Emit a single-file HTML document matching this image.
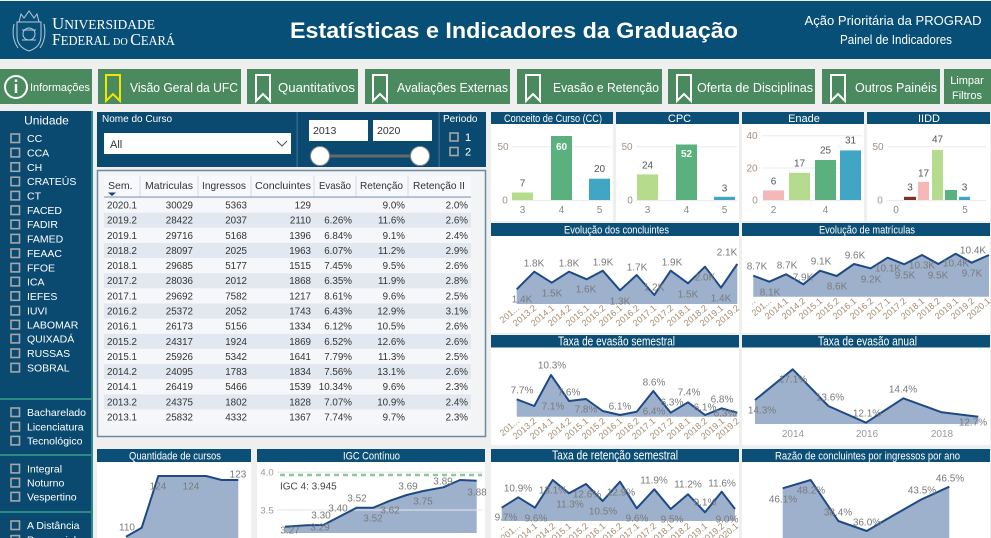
<!DOCTYPE html>
<html><head><meta charset="utf-8"><style>
html,body{margin:0;padding:0;background:#efefef;overflow:hidden;}
svg{display:block;font-family:"Liberation Sans",sans-serif;}
</style></head><body>
<svg width="991" height="538" viewBox="0 0 991 538" xmlns="http://www.w3.org/2000/svg">
<rect width="991" height="538" fill="#efefef"/>

<!-- HEADER -->
<rect x="0" y="1" width="991" height="58" fill="#074f77"/>
<g stroke="#b9c9d6" stroke-width="1" fill="none">
  <path d="M17,22 h24 v14 q0,11 -12,15 q-12,-4 -12,-15 z"/>
  <path d="M19,22 l2,-8 l3,4 l5,-7 l5,7 l3,-4 l2,8"/>
  <circle cx="29" cy="34" r="6"/>
  <path d="M14,24 q-3,14 4,24 M44,24 q3,14 -4,24"/>
  <path d="M22,30 h14 M22,40 h14"/>
</g>
<text x="52" y="29" fill="#fff" font-family="Liberation Serif,serif" textLength="103" lengthAdjust="spacingAndGlyphs"><tspan font-size="17">U</tspan><tspan font-size="13.5">NIVERSIDADE</tspan></text>
<text x="52" y="45" fill="#fff" font-family="Liberation Serif,serif" textLength="123" lengthAdjust="spacingAndGlyphs"><tspan font-size="17">F</tspan><tspan font-size="13.5">EDERAL </tspan><tspan font-size="11">DO </tspan><tspan font-size="17">C</tspan><tspan font-size="13.5">EARÁ</tspan></text>
<text x="514" y="38" font-size="22" font-weight="bold" fill="#fff" text-anchor="middle" textLength="448" lengthAdjust="spacingAndGlyphs">Estatísticas e Indicadores da Graduação</text>
<text x="893" y="25" font-size="13" fill="#fff" text-anchor="middle" textLength="177" lengthAdjust="spacingAndGlyphs">Ação Prioritária da PROGRAD</text>
<text x="896" y="44" font-size="13" fill="#fff" text-anchor="middle" textLength="112" lengthAdjust="spacingAndGlyphs">Painel de Indicadores</text>

<!-- NAV -->
<g fill="#4a8a5e">
  <rect x="0" y="69" width="92" height="35"/>
  <rect x="98" y="69" width="143" height="35"/>
  <rect x="247" y="69" width="111" height="35"/>
  <rect x="365" y="69" width="145" height="35"/>
  <rect x="517" y="69" width="145" height="35"/>
  <rect x="668" y="69" width="147" height="35"/>
  <rect x="822" y="69" width="118" height="35"/>
  <rect x="944" y="69" width="47" height="35"/>
</g>
<circle cx="16" cy="87" r="11" stroke="#fff" stroke-width="2" fill="none"/>
<rect x="14.8" y="84" width="2.4" height="9" fill="#fff"/>
<rect x="14.8" y="79.5" width="2.4" height="2.4" fill="#fff"/>
<g stroke-width="2" fill="none">
  <path d="M106,75 h14 v26 l-7,-7 l-7,7 z" stroke="#f2e600"/>
  <path d="M256,75 h14 v26 l-7,-7 l-7,7 z" stroke="#fff"/>
  <path d="M373,75 h14 v26 l-7,-7 l-7,7 z" stroke="#fff"/>
  <path d="M526,75 h14 v26 l-7,-7 l-7,7 z" stroke="#fff"/>
  <path d="M677,75 h14 v26 l-7,-7 l-7,7 z" stroke="#fff"/>
  <path d="M831,75 h14 v26 l-7,-7 l-7,7 z" stroke="#fff"/>
</g>
<g fill="#fff" font-size="12.5">
  <text x="30" y="91" font-size="11" textLength="60" lengthAdjust="spacingAndGlyphs">Informações</text>
  <text x="130" y="92" textLength="108" lengthAdjust="spacingAndGlyphs">Visão Geral da UFC</text>
  <text x="278" y="92" textLength="77" lengthAdjust="spacingAndGlyphs">Quantitativos</text>
  <text x="397" y="92" textLength="111" lengthAdjust="spacingAndGlyphs">Avaliações Externas</text>
  <text x="553" y="92" textLength="106" lengthAdjust="spacingAndGlyphs">Evasão e Retenção</text>
  <text x="697" y="92" textLength="116" lengthAdjust="spacingAndGlyphs">Oferta de Disciplinas</text>
  <text x="855" y="92" textLength="82" lengthAdjust="spacingAndGlyphs">Outros Painéis</text>
  <text x="967" y="84" font-size="11" text-anchor="middle">Limpar</text>
  <text x="967" y="99" font-size="11" text-anchor="middle">Filtros</text>
</g>

<!-- SIDEBAR -->
<rect x="0" y="111" width="92" height="427" fill="#0a4a70"/>
<rect x="91" y="111" width="2" height="427" fill="#2b8a86"/>
<rect x="0" y="398" width="92" height="2" fill="#2b8a86"/>
<rect x="0" y="454" width="92" height="2" fill="#2b8a86"/>
<rect x="0" y="511" width="92" height="2" fill="#2b8a86"/>
<text x="46.5" y="124.5" font-size="12" fill="#fff" text-anchor="middle">Unidade</text>
<g fill="none" stroke="#a7a7a7" stroke-width="1.6">
  <rect x="11" y="134" width="8.5" height="8.5"/>
  <rect x="11" y="148.4" width="8.5" height="8.5"/>
  <rect x="11" y="162.8" width="8.5" height="8.5"/>
  <rect x="11" y="177.2" width="8.5" height="8.5"/>
  <rect x="11" y="191.4" width="8.5" height="8.5"/>
  <rect x="11" y="206" width="8.5" height="8.5"/>
  <rect x="11" y="220.2" width="8.5" height="8.5"/>
  <rect x="11" y="234.4" width="8.5" height="8.5"/>
  <rect x="11" y="249" width="8.5" height="8.5"/>
  <rect x="11" y="263.4" width="8.5" height="8.5"/>
  <rect x="11" y="277.4" width="8.5" height="8.5"/>
  <rect x="11" y="291.8" width="8.5" height="8.5"/>
  <rect x="11" y="306.4" width="8.5" height="8.5"/>
  <rect x="11" y="320.4" width="8.5" height="8.5"/>
  <rect x="11" y="334.4" width="8.5" height="8.5"/>
  <rect x="11" y="349" width="8.5" height="8.5"/>
  <rect x="11" y="363.4" width="8.5" height="8.5"/>
  <rect x="11" y="408" width="8.5" height="8.5"/>
  <rect x="11" y="422.4" width="8.5" height="8.5"/>
  <rect x="11" y="436.4" width="8.5" height="8.5"/>
  <rect x="11" y="464.4" width="8.5" height="8.5"/>
  <rect x="11" y="478.4" width="8.5" height="8.5"/>
  <rect x="11" y="492.4" width="8.5" height="8.5"/>
  <rect x="11" y="521" width="8.5" height="8.5"/>
  <rect x="11" y="535.6" width="8.5" height="8.5"/>
</g>
<g fill="#fff" font-size="10.5">
  <text x="27" y="142">CC</text>
  <text x="27" y="156.4">CCA</text>
  <text x="27" y="170.8">CH</text>
  <text x="27" y="185.2">CRATEÚS</text>
  <text x="27" y="199.4">CT</text>
  <text x="27" y="214">FACED</text>
  <text x="27" y="228.2">FADIR</text>
  <text x="27" y="242.4">FAMED</text>
  <text x="27" y="257">FEAAC</text>
  <text x="27" y="271.4">FFOE</text>
  <text x="27" y="285.4">ICA</text>
  <text x="27" y="299.8">IEFES</text>
  <text x="27" y="314.4">IUVI</text>
  <text x="27" y="328.4">LABOMAR</text>
  <text x="27" y="342.4">QUIXADÁ</text>
  <text x="27" y="357">RUSSAS</text>
  <text x="27" y="371.4">SOBRAL</text>
  <text x="27" y="416">Bacharelado</text>
  <text x="27" y="430.4">Licenciatura</text>
  <text x="27" y="444.4">Tecnológico</text>
  <text x="27" y="472.4">Integral</text>
  <text x="27" y="486.4">Noturno</text>
  <text x="27" y="500.4">Vespertino</text>
  <text x="27" y="529">A Distância</text>
  <text x="27" y="543.6">Presencial</text>
</g>

<!-- FILTERS -->
<rect x="97" y="112" width="389" height="55" fill="#0a4a70"/>
<rect x="296.5" y="112" width="1.2" height="55" fill="#3d6f92"/>
<rect x="438.5" y="112" width="1.2" height="55" fill="#3d6f92"/>
<text x="102" y="122" font-size="10" fill="#fff">Nome do Curso</text>
<rect x="104" y="133" width="187" height="21" fill="#fff"/>
<text x="110" y="148" font-size="11" fill="#333">All</text>
<path d="M277,141 l5,5 l5,-5" stroke="#555" stroke-width="1.1" fill="none"/>
<rect x="309" y="120" width="59" height="21" fill="#fff"/>
<rect x="373" y="120" width="59" height="21" fill="#fff"/>
<text x="313" y="134" font-size="10.5" fill="#333">2013</text>
<text x="377" y="134" font-size="10.5" fill="#333">2020</text>
<rect x="320" y="154.5" width="100" height="3" fill="#666"/>
<circle cx="320" cy="156" r="9.5" fill="#fff" stroke="#888" stroke-width="1"/>
<circle cx="420" cy="156" r="9.5" fill="#fff" stroke="#888" stroke-width="1"/>
<text x="443" y="122" font-size="10" fill="#fff">Periodo</text>
<rect x="450" y="133" width="8" height="8" fill="none" stroke="#a7a7a7" stroke-width="1.6"/>
<rect x="450" y="147.5" width="8" height="8" fill="none" stroke="#a7a7a7" stroke-width="1.6"/>
<text x="465" y="141" font-size="11" fill="#fff">1</text>
<text x="465" y="155.5" font-size="11" fill="#fff">2</text>

<!-- TABLE -->
<rect x="97.5" y="170.5" width="388" height="266" fill="#f3f4f5" stroke="#6f8aa0" stroke-width="1.5"/>
<rect x="104" y="176" width="367" height="21.5" fill="#f6f8fb"/>
<g stroke="#d3dbe4" stroke-width="1">
  <line x1="140" y1="176" x2="140" y2="197"/>
  <line x1="198" y1="176" x2="198" y2="197"/>
  <line x1="251" y1="176" x2="251" y2="197"/>
  <line x1="314" y1="176" x2="314" y2="197"/>
  <line x1="356" y1="176" x2="356" y2="197"/>
  <line x1="408" y1="176" x2="408" y2="197"/>
</g>
<rect x="104" y="196.5" width="367" height="1.2" fill="#7d98b3"/>
<g font-size="10.5" fill="#333">
  <text x="108" y="189">Sem.</text>
  <text x="145" y="189" textLength="48" lengthAdjust="spacingAndGlyphs">Matriculas</text>
  <text x="202" y="189" textLength="44" lengthAdjust="spacingAndGlyphs">Ingressos</text>
  <text x="255" y="189" textLength="56" lengthAdjust="spacingAndGlyphs">Concluintes</text>
  <text x="319" y="189" textLength="32" lengthAdjust="spacingAndGlyphs">Evasão</text>
  <text x="360" y="189" textLength="43" lengthAdjust="spacingAndGlyphs">Retenção</text>
  <text x="413" y="189" textLength="52" lengthAdjust="spacingAndGlyphs">Retenção II</text>
</g>
<path d="M108,192.5 h8 l-4,3.5 z" fill="#1f3f6a"/>
<g fill="#e2e8f0">
  <rect x="104" y="212.64" width="367" height="15.14"/>
  <rect x="104" y="242.92" width="367" height="15.14"/>
  <rect x="104" y="273.2" width="367" height="15.14"/>
  <rect x="104" y="303.48" width="367" height="15.14"/>
  <rect x="104" y="333.76" width="367" height="15.14"/>
  <rect x="104" y="364.04" width="367" height="15.14"/>
  <rect x="104" y="394.32" width="367" height="15.14"/>
</g>
<g fill="#f5f7fb">
  <rect x="104" y="197.7" width="367" height="14.94"/>
  <rect x="104" y="227.78" width="367" height="15.14"/>
  <rect x="104" y="258.06" width="367" height="15.14"/>
  <rect x="104" y="288.34" width="367" height="15.14"/>
  <rect x="104" y="318.62" width="367" height="15.14"/>
  <rect x="104" y="348.9" width="367" height="15.14"/>
  <rect x="104" y="379.18" width="367" height="15.14"/>
  <rect x="104" y="409.46" width="367" height="15.14"/>
</g>
<g font-size="9.8" fill="#333">
<g>
  <text x="107" y="208.5">2020.1</text><text x="107" y="223.6">2019.2</text><text x="107" y="238.8">2019.1</text>
  <text x="107" y="253.9">2018.2</text><text x="107" y="269.1">2018.1</text><text x="107" y="284.2">2017.2</text>
  <text x="107" y="299.3">2017.1</text><text x="107" y="314.5">2016.2</text><text x="107" y="329.6">2016.1</text>
  <text x="107" y="344.8">2015.2</text><text x="107" y="359.9">2015.1</text><text x="107" y="375">2014.2</text>
  <text x="107" y="390.2">2014.1</text><text x="107" y="405.3">2013.2</text><text x="107" y="420.5">2013.1</text>
</g>
<g text-anchor="end">
  <text x="193" y="208.5">30029</text><text x="193" y="223.6">28422</text><text x="193" y="238.8">29716</text>
  <text x="193" y="253.9">28097</text><text x="193" y="269.1">29685</text><text x="193" y="284.2">28036</text>
  <text x="193" y="299.3">29692</text><text x="193" y="314.5">25372</text><text x="193" y="329.6">26173</text>
  <text x="193" y="344.8">24317</text><text x="193" y="359.9">25926</text><text x="193" y="375">24095</text>
  <text x="193" y="390.2">26419</text><text x="193" y="405.3">24375</text><text x="193" y="420.5">25832</text>

  <text x="247" y="208.5">5363</text><text x="247" y="223.6">2037</text><text x="247" y="238.8">5168</text>
  <text x="247" y="253.9">2025</text><text x="247" y="269.1">5177</text><text x="247" y="284.2">2012</text>
  <text x="247" y="299.3">7582</text><text x="247" y="314.5">2052</text><text x="247" y="329.6">5156</text>
  <text x="247" y="344.8">1924</text><text x="247" y="359.9">5342</text><text x="247" y="375">1783</text>
  <text x="247" y="390.2">5466</text><text x="247" y="405.3">1802</text><text x="247" y="420.5">4332</text>

  <text x="311" y="208.5">129</text><text x="311" y="223.6">2110</text><text x="311" y="238.8">1396</text>
  <text x="311" y="253.9">1963</text><text x="311" y="269.1">1515</text><text x="311" y="284.2">1868</text>
  <text x="311" y="299.3">1217</text><text x="311" y="314.5">1743</text><text x="311" y="329.6">1334</text>
  <text x="311" y="344.8">1869</text><text x="311" y="359.9">1641</text><text x="311" y="375">1834</text>
  <text x="311" y="390.2">1539</text><text x="311" y="405.3">1828</text><text x="311" y="420.5">1367</text>

  <text x="352" y="223.6">6.26%</text><text x="352" y="238.8">6.84%</text>
  <text x="352" y="253.9">6.07%</text><text x="352" y="269.1">7.45%</text><text x="352" y="284.2">6.35%</text>
  <text x="352" y="299.3">8.61%</text><text x="352" y="314.5">6.43%</text><text x="352" y="329.6">6.12%</text>
  <text x="352" y="344.8">6.52%</text><text x="352" y="359.9">7.79%</text><text x="352" y="375">7.56%</text>
  <text x="352" y="390.2">10.34%</text><text x="352" y="405.3">7.07%</text><text x="352" y="420.5">7.74%</text>

  <text x="405" y="208.5">9.0%</text><text x="405" y="223.6">11.6%</text><text x="405" y="238.8">9.1%</text>
  <text x="405" y="253.9">11.2%</text><text x="405" y="269.1">9.5%</text><text x="405" y="284.2">11.9%</text>
  <text x="405" y="299.3">9.6%</text><text x="405" y="314.5">12.9%</text><text x="405" y="329.6">10.5%</text>
  <text x="405" y="344.8">12.6%</text><text x="405" y="359.9">11.3%</text><text x="405" y="375">13.1%</text>
  <text x="405" y="390.2">9.6%</text><text x="405" y="405.3">10.9%</text><text x="405" y="420.5">9.7%</text>

  <text x="468" y="208.5">2.0%</text><text x="468" y="223.6">2.6%</text><text x="468" y="238.8">2.4%</text>
  <text x="468" y="253.9">2.9%</text><text x="468" y="269.1">2.6%</text><text x="468" y="284.2">2.8%</text>
  <text x="468" y="299.3">2.5%</text><text x="468" y="314.5">3.1%</text><text x="468" y="329.6">2.6%</text>
  <text x="468" y="344.8">2.6%</text><text x="468" y="359.9">2.5%</text><text x="468" y="375">2.6%</text>
  <text x="468" y="390.2">2.3%</text><text x="468" y="405.3">2.4%</text><text x="468" y="420.5">2.3%</text>
</g>
</g>

<!-- PANELS & TITLE BARS -->
<g fill="#fff">
  <rect x="491" y="124" width="122" height="97"/>
  <rect x="616" y="124" width="123" height="97"/>
  <rect x="742" y="124" width="122" height="97"/>
  <rect x="867" y="124" width="123" height="97"/>
  <rect x="491" y="236" width="248" height="97"/>
  <rect x="742" y="236" width="248" height="97"/>
  <rect x="491" y="347.5" width="248" height="97.5"/>
  <rect x="742" y="347.5" width="248" height="97.5"/>
  <rect x="491" y="462" width="248" height="76"/>
  <rect x="742" y="462" width="248" height="76"/>
  <rect x="97" y="462" width="154" height="76"/>
  <rect x="257" y="462" width="228" height="76"/>
</g>
<g fill="#0b4f76">
  <rect x="491" y="112" width="122" height="12"/>
  <rect x="616" y="112" width="123" height="12"/>
  <rect x="742" y="112" width="122" height="12"/>
  <rect x="867" y="112" width="123" height="12"/>
  <rect x="491" y="223" width="248" height="13"/>
  <rect x="742" y="223" width="248" height="13"/>
  <rect x="491" y="335" width="248" height="12.5"/>
  <rect x="742" y="335" width="248" height="12.5"/>
  <rect x="491" y="449" width="248" height="13"/>
  <rect x="742" y="449" width="248" height="13"/>
  <rect x="97" y="449" width="154" height="13"/>
  <rect x="257" y="449" width="228" height="13"/>
</g>
<g fill="#fff" font-size="11" text-anchor="middle">
  <text x="553" y="122" textLength="98" lengthAdjust="spacingAndGlyphs">Conceito de Curso (CC)</text>
  <text x="679.5" y="122">CPC</text>
  <text x="804" y="122">Enade</text>
  <text x="929" y="122">IIDD</text>
  <text x="616.5" y="233.5" textLength="105" lengthAdjust="spacingAndGlyphs">Evolução dos concluintes</text>
  <text x="867" y="233.5" textLength="96" lengthAdjust="spacingAndGlyphs">Evolução de matrículas</text>
  <text x="616.5" y="345.5" font-size="12.5" textLength="117" lengthAdjust="spacingAndGlyphs">Taxa de evasão semestral</text>
  <text x="867.5" y="345.5" font-size="12.5" textLength="99" lengthAdjust="spacingAndGlyphs">Taxa de evasão anual</text>
  <text x="615" y="459.5" font-size="12.5" textLength="126" lengthAdjust="spacingAndGlyphs">Taxa de retenção semestral</text>
  <text x="867.5" y="459.5" textLength="185" lengthAdjust="spacingAndGlyphs">Razão de concluintes por ingressos por ano</text>
  <text x="175" y="459.5" textLength="92" lengthAdjust="spacingAndGlyphs">Quantidade de cursos</text>
  <text x="371.5" y="459.5" textLength="57" lengthAdjust="spacingAndGlyphs">IGC Contínuo</text>
</g>

<!-- BAR CHARTS -->
<g stroke="#ececec" stroke-width="1">
  <line x1="512" y1="146.7" x2="611" y2="146.7"/><line x1="512" y1="200.5" x2="611" y2="200.5"/>
  <line x1="636" y1="146.7" x2="737" y2="146.7"/><line x1="636" y1="200.5" x2="737" y2="200.5"/>
  <line x1="762" y1="135.7" x2="862" y2="135.7"/><line x1="762" y1="168" x2="862" y2="168"/><line x1="762" y1="200.5" x2="862" y2="200.5"/>
  <line x1="887" y1="146.7" x2="986" y2="146.7"/><line x1="887" y1="200.5" x2="986" y2="200.5"/>
</g>
<!-- CC -->
<rect x="512" y="192.5" width="21" height="7.5" fill="#b5dc8c"/>
<rect x="551" y="136" width="21" height="64" fill="#5bb17d"/>
<rect x="589" y="178.7" width="21" height="21.3" fill="#41a6c6"/>
<!-- CPC -->
<rect x="637" y="174.4" width="21" height="25.6" fill="#b5dc8c"/>
<rect x="676" y="144.5" width="21" height="55.5" fill="#5bb17d"/>
<rect x="714" y="196.8" width="21" height="3.2" fill="#41a6c6"/>
<!-- Enade -->
<rect x="763" y="190.4" width="21" height="9.6" fill="#f4b8b9"/>
<rect x="789" y="172.8" width="21" height="27.2" fill="#b5dc8c"/>
<rect x="815" y="160" width="21" height="40" fill="#5bb17d"/>
<rect x="840" y="150.4" width="21" height="49.6" fill="#41a6c6"/>
<!-- IIDD -->
<rect x="904" y="196.8" width="12" height="3.2" fill="#7d3326"/>
<rect x="918" y="181.9" width="11" height="18.1" fill="#f4b8b9"/>
<rect x="932" y="149.9" width="11" height="50.1" fill="#b5dc8c"/>
<rect x="945" y="190" width="12" height="10" fill="#5bb17d"/>
<rect x="959" y="196.8" width="11" height="3.2" fill="#41a6c6"/>
<g font-size="10" fill="#a39282" text-anchor="middle">
  <text x="503" y="150">50</text><text x="505" y="203.5">0</text>
  <text x="627" y="150">50</text><text x="630" y="203.5">0</text>
  <text x="752" y="139">40</text><text x="752" y="171.5">20</text><text x="755" y="203.5">0</text>
  <text x="878" y="150">50</text><text x="880" y="203.5">0</text>
</g>
<g font-size="10" fill="#888" text-anchor="middle">
  <text x="522.5" y="213">3</text><text x="561.5" y="213">4</text><text x="599.5" y="213">5</text>
  <text x="647.5" y="213">3</text><text x="686.5" y="213">4</text><text x="724.5" y="213">5</text>
  <text x="773.5" y="213">2</text><text x="825.5" y="213">4</text>
  <text x="896" y="213">0</text><text x="965" y="213">5</text>
</g>
<g font-size="10" fill="#555" text-anchor="middle">
  <text x="522.5" y="186.5">7</text><text x="599.5" y="172">20</text>
  <text x="647.5" y="168.5">24</text><text x="724.5" y="191.5">3</text>
  <text x="773.5" y="184.5">6</text><text x="799.5" y="166.5">17</text><text x="825.5" y="153.5">25</text><text x="850.5" y="143.5">31</text>
  <text x="910" y="190.5">3</text><text x="923.5" y="176.5">17</text><text x="937.5" y="142.5">47</text><text x="964.5" y="190.5">3</text>
</g>
<g font-size="10" fill="#fff" font-weight="bold" text-anchor="middle">
  <text x="561.5" y="150">60</text><text x="686.5" y="157">52</text>
</g>

<!-- LINE CHARTS -->
<g fill="#9db1cd" stroke="none">
  <polygon points="516.7,304 516.7,289.3 534.3,271.7 551.7,282.7 569,271.7 586.7,279.3 602.7,270.7 620,290.3 636.7,275 654.3,295 670.7,270.7 688,283.3 705,266.7 721,287.7 737.3,264 737.3,304"/>
  <polygon points="753.3,296.7 753.3,275.7 769.3,281.7 786,274.3 803.3,284.3 820,270.7 836.7,276 854,264 870.7,268.3 887.7,257.7 904.3,264.3 922,255 938.3,264 955.7,253.7 971.7,262.7 989,255 989,296.7"/>
  <polygon points="516.7,416.7 516.7,399.3 534.3,406 551,375 569,401 586,399 602.7,411 620,415 636.7,411.7 653.3,391 670.7,412.7 688,402.3 705,415 721.7,408.3 737.3,412.7 737.3,416.7"/>
  <polygon points="755,424 755,400 792.7,369.3 828.3,406 866,422.7 903.3,398.3 941.7,412.3 978.3,416.7 978.3,424"/>
  <polygon points="501.7,521 501.7,507.7 518.3,497.3 535,507.7 552.7,480 569,493.3 586,484 602.7,501 620,481.7 636.7,508.3 654.3,489.3 670.7,509 688,494.3 705,512.3 721.7,491.7 735,509 735,521"/>
  <polygon points="782.7,545 782.7,488.3 810.7,480 838.3,521 866.7,531 894,515 921.7,499.3 949.3,486.7 949.3,545"/>
  <polygon points="126,545 126,536.7 141.7,527.7 158.3,476 206,476 221.7,480 238.3,480 238.3,545"/>
  <polygon points="285,533 285,526.7 306.7,525.3 323.3,525 356.7,507.7 373.3,507.7 390,500.7 406.7,495 423.3,491 443.3,487.3 460,480 476.7,480.7 476.7,533"/>
</g>
<g stroke="#e6e6e6" stroke-width="1">
  <line x1="277" y1="472.3" x2="483" y2="472.3"/>
  <line x1="277" y1="510" x2="483" y2="510"/>
</g>
<line x1="280" y1="475" x2="482" y2="475" stroke="#8fc79a" stroke-width="2.5" stroke-dasharray="5,4"/>
<g fill="none" stroke="#1d4a86" stroke-width="2" stroke-linejoin="round">
  <polyline points="516.7,289.3 534.3,271.7 551.7,282.7 569,271.7 586.7,279.3 602.7,270.7 620,290.3 636.7,275 654.3,295 670.7,270.7 688,283.3 705,266.7 721,287.7 737.3,264"/>
  <polyline points="753.3,275.7 769.3,281.7 786,274.3 803.3,284.3 820,270.7 836.7,276 854,264 870.7,268.3 887.7,257.7 904.3,264.3 922,255 938.3,264 955.7,253.7 971.7,262.7 989,255"/>
  <polyline points="516.7,399.3 534.3,406 551,375 569,401 586,399 602.7,411 620,415 636.7,411.7 653.3,391 670.7,412.7 688,402.3 705,415 721.7,408.3 737.3,412.7"/>
  <polyline points="755,400 792.7,369.3 828.3,406 866,422.7 903.3,398.3 941.7,412.3 978.3,416.7"/>
  <polyline points="501.7,507.7 518.3,497.3 535,507.7 552.7,480 569,493.3 586,484 602.7,501 620,481.7 636.7,508.3 654.3,489.3 670.7,509 688,494.3 705,512.3 721.7,491.7 735,509"/>
  <polyline points="782.7,488.3 810.7,480 838.3,521 866.7,531 894,515 921.7,499.3 949.3,486.7"/>
  <polyline points="126,536.7 141.7,527.7 158.3,476 206,476 221.7,480 238.3,480"/>
  <polyline points="285,526.7 306.7,525.3 323.3,525 356.7,507.7 373.3,507.7 390,500.7 406.7,495 423.3,491 443.3,487.3 460,480 476.7,480.7"/>
</g>

<!-- data labels -->
<g font-size="10" fill="#7a7a7a" text-anchor="middle">
  <text x="522" y="302.5">1.4K</text><text x="534" y="266.5">1.8K</text><text x="552" y="296.5">1.5K</text>
  <text x="569" y="266.5">1.8K</text><text x="586" y="292.5">1.6K</text><text x="603" y="265.5">1.9K</text>
  <text x="620" y="304.5">1.3K</text><text x="637" y="270.5">1.7K</text><text x="654" y="290.5">1.2K</text>
  <text x="672" y="265.5">1.9K</text><text x="688" y="297.5">1.5K</text><text x="705" y="280.5">2.0K</text>
  <text x="721" y="301.5">1.4K</text><text x="727" y="255.5">2.1K</text>

  <text x="757" y="269.5">8.7K</text><text x="770" y="295.5">8.1K</text><text x="787" y="268.5">8.7K</text>
  <text x="803" y="280.5">7.9K</text><text x="821" y="264.5">9.1K</text><text x="837" y="289.5">8.6K</text>
  <text x="855" y="258.5">9.6K</text><text x="871" y="282.5">9.2K</text><text x="888" y="271.5">10.1K</text>
  <text x="905" y="278.5">9.5K</text><text x="922" y="268.5">10.3K</text><text x="938" y="278.5">9.5K</text>
  <text x="956" y="266.5">10.4K</text><text x="972" y="276.5">9.7K</text><text x="973" y="253.5">10.4K</text>

  <text x="522" y="393.5">7.7%</text><text x="552" y="368.5">10.3%</text><text x="569" y="395.5">7.6%</text>
  <text x="553" y="409.5">7.1%</text><text x="586" y="412.5">7.8%</text><text x="620" y="409.5">6.1%</text>
  <text x="654" y="385.5">8.6%</text><text x="654" y="414.5">6.4%</text><text x="672" y="405.5">6.3%</text>
  <text x="689" y="395.5">7.4%</text><text x="705" y="410.5">6.1%</text><text x="722" y="402.5">6.8%</text>
  <text x="725" y="416.5">6.3%</text>

  <text x="762" y="413.5">14.3%</text><text x="793" y="382.5">17.1%</text><text x="830" y="400.5">13.6%</text>
  <text x="867" y="416.5">12.1%</text><text x="903" y="392.5">14.4%</text><text x="973" y="425.5">12.7%</text>

  <text x="506" y="520.5">9.7%</text><text x="518" y="491.5">10.9%</text><text x="536" y="521.5">9.6%</text>
  <text x="553" y="493.5">13.1%</text><text x="570" y="507.5">11.3%</text><text x="587" y="497.5">12.6%</text>
  <text x="603" y="514.5">10.5%</text><text x="621" y="495.5">12.9%</text><text x="637" y="521.5">9.6%</text>
  <text x="654" y="483.5">11.9%</text><text x="672" y="522.5">9.5%</text><text x="688" y="487.5">11.2%</text>
  <text x="705" y="505.5">9.1%</text><text x="722" y="486.5">11.6%</text><text x="727" y="522.5">9.0%</text>

  <text x="783" y="502.5">46.1%</text><text x="811" y="493.5">48.2%</text><text x="838" y="515.5">38.4%</text>
  <text x="867" y="525.5">36.0%</text><text x="922" y="493.5">43.5%</text><text x="950" y="481.5">46.5%</text>

  <text x="127" y="530.5">110</text><text x="158" y="489.5">124</text><text x="191" y="489.5">124</text><text x="238" y="477.5">123</text>

  <text x="290" y="533.5">3.27</text><text x="320" y="530.5">3.29</text><text x="321" y="518.5">3.30</text>
  <text x="338" y="511.5">3.40</text><text x="357" y="501.5">3.52</text><text x="373" y="521.5">3.52</text>
  <text x="390" y="513.5">3.62</text><text x="408" y="489.5">3.69</text><text x="423" y="504.5">3.75</text>
  <text x="443" y="484.5">3.89</text><text x="477" y="495.5">3.88</text>
</g>
<text x="280" y="489.5" font-size="10" fill="#444">IGC 4: 3.945</text>
<g font-size="9.5" fill="#999" text-anchor="middle">
  <text x="267" y="475.5">4.0</text><text x="267" y="513.5">3.5</text>
</g>

<!-- rotated x-axis labels -->
<g font-size="9" fill="#a68c70" text-anchor="end">
  <text transform="translate(520,309) rotate(-40)">201...</text>
  <text transform="translate(537,309) rotate(-40)">2013.2</text>
  <text transform="translate(555,309) rotate(-40)">2014.1</text>
  <text transform="translate(572,309) rotate(-40)">2014.2</text>
  <text transform="translate(590,309) rotate(-40)">2015.1</text>
  <text transform="translate(606,309) rotate(-40)">2015.2</text>
  <text transform="translate(623,309) rotate(-40)">2016.1</text>
  <text transform="translate(640,309) rotate(-40)">2016.2</text>
  <text transform="translate(657,309) rotate(-40)">2017.1</text>
  <text transform="translate(674,309) rotate(-40)">2017.2</text>
  <text transform="translate(691,309) rotate(-40)">2018.1</text>
  <text transform="translate(708,309) rotate(-40)">2018.2</text>
  <text transform="translate(724,309) rotate(-40)">2019.1</text>
  <text transform="translate(740,309) rotate(-40)">2019.2</text>

  <text transform="translate(756,302) rotate(-40)">..</text>
  <text transform="translate(772,302) rotate(-40)">201...</text>
  <text transform="translate(789,302) rotate(-40)">2014.1</text>
  <text transform="translate(806,302) rotate(-40)">2014.2</text>
  <text transform="translate(823,302) rotate(-40)">2015.1</text>
  <text transform="translate(840,302) rotate(-40)">2015.2</text>
  <text transform="translate(857,302) rotate(-40)">2016.1</text>
  <text transform="translate(874,302) rotate(-40)">2016.2</text>
  <text transform="translate(891,302) rotate(-40)">2017.1</text>
  <text transform="translate(907,302) rotate(-40)">2017.2</text>
  <text transform="translate(925,302) rotate(-40)">2018.1</text>
  <text transform="translate(941,302) rotate(-40)">2018.2</text>
  <text transform="translate(959,302) rotate(-40)">2019.1</text>
  <text transform="translate(975,302) rotate(-40)">2019.2</text>
  <text transform="translate(991,302) rotate(-40)">2020.1</text>

  <text transform="translate(520,422) rotate(-40)">201...</text>
  <text transform="translate(537,422) rotate(-40)">2013.2</text>
  <text transform="translate(554,422) rotate(-40)">2014.1</text>
  <text transform="translate(572,422) rotate(-40)">2014.2</text>
  <text transform="translate(589,422) rotate(-40)">2015.1</text>
  <text transform="translate(606,422) rotate(-40)">2015.2</text>
  <text transform="translate(623,422) rotate(-40)">2016.1</text>
  <text transform="translate(640,422) rotate(-40)">2016.2</text>
  <text transform="translate(656,422) rotate(-40)">2017.1</text>
  <text transform="translate(674,422) rotate(-40)">2017.2</text>
  <text transform="translate(691,422) rotate(-40)">2018.1</text>
  <text transform="translate(708,422) rotate(-40)">2018.2</text>
  <text transform="translate(725,422) rotate(-40)">2019.1</text>
  <text transform="translate(740,422) rotate(-40)">2019.2</text>

  <text transform="translate(505,527) rotate(-40)">..</text>
  <text transform="translate(521,527) rotate(-40)">201...</text>
  <text transform="translate(538,527) rotate(-40)">2014.1</text>
  <text transform="translate(556,527) rotate(-40)">2014.2</text>
  <text transform="translate(572,527) rotate(-40)">2015.1</text>
  <text transform="translate(589,527) rotate(-40)">2015.2</text>
  <text transform="translate(606,527) rotate(-40)">2016.1</text>
  <text transform="translate(623,527) rotate(-40)">2016.2</text>
  <text transform="translate(640,527) rotate(-40)">2017.1</text>
  <text transform="translate(657,527) rotate(-40)">2017.2</text>
  <text transform="translate(674,527) rotate(-40)">2018.1</text>
  <text transform="translate(691,527) rotate(-40)">2018.2</text>
  <text transform="translate(708,527) rotate(-40)">2019.1</text>
  <text transform="translate(725,527) rotate(-40)">2019.2</text>
  <text transform="translate(739,527) rotate(-40)">2020.1</text>
</g>
<g font-size="10" fill="#999" text-anchor="middle">
  <text x="793" y="437">2014</text><text x="867" y="437">2016</text><text x="942" y="437">2018</text>
</g>
</svg>
</body></html>
